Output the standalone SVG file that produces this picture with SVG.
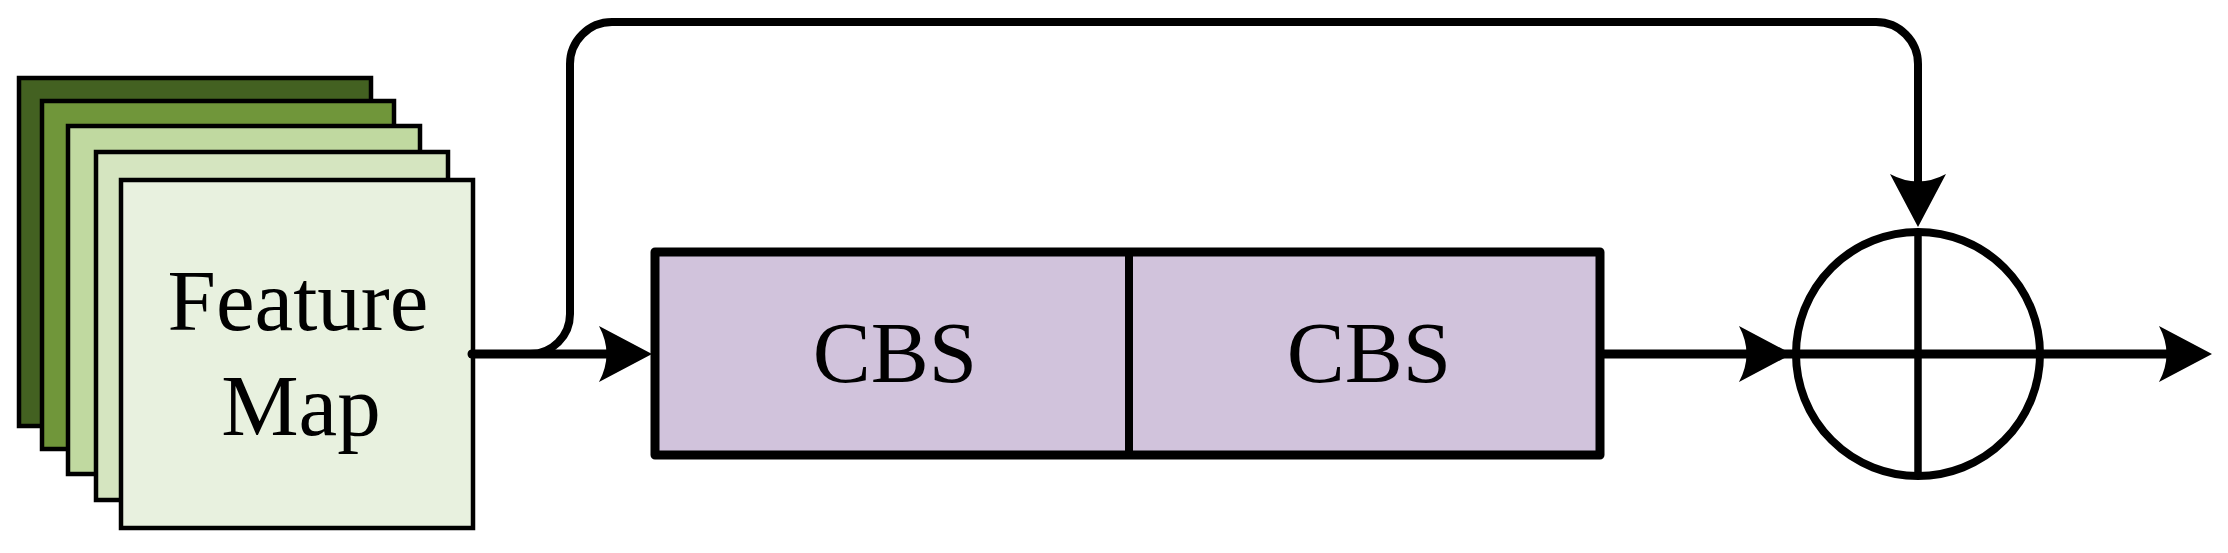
<svg xmlns="http://www.w3.org/2000/svg" width="2228" height="553" viewBox="0 0 2228 553">
  <style>
    .fm { stroke: #000; stroke-width: 4.5; }
    .cbs { fill: #d1c3dc; stroke: #000; stroke-width: 9; stroke-linejoin: round; }
    .lbl { font-family: "Liberation Serif", "Times New Roman", serif; fill: #000; text-anchor: middle; font-size: 87px; }
    .conn { fill: none; stroke: #000; stroke-width: 8; stroke-linecap: round; stroke-linejoin: round; }
    .hconn { fill: none; stroke: #000; stroke-width: 9; stroke-linecap: round; }
    .thin { fill: none; stroke: #000; stroke-width: 7.5; }
    .ah { fill: #000; stroke: none; }
  </style>
  <defs>
    <path id="arrow" d="M0,0 L-53,-28 Q-38,0 -53,28 Z"/>
  </defs>
  <rect width="2228" height="553" fill="#fff"/>

  <g id="feature-map">
    <rect class="fm" x="19" y="78" width="352" height="348" fill="#436121"/>
    <rect class="fm" x="42" y="101" width="352" height="348" fill="#70963a"/>
    <rect class="fm" x="68" y="126" width="352" height="348" fill="#c0d9a0"/>
    <rect class="fm" x="96" y="152" width="352" height="348" fill="#d5e5c0"/>
    <rect class="fm" x="121" y="180" width="352" height="348" fill="#e8f1df"/>
    <text class="lbl" x="298" y="330">Feature</text>
    <text class="lbl" x="301" y="435">Map</text>
  </g>

  <g id="cbs-block">
    <rect class="cbs" x="655" y="252" width="945" height="203"/>
    <line x1="1129" y1="252" x2="1129" y2="455" stroke="#000" stroke-width="8"/>
    <text class="lbl" x="895" y="382">CBS</text>
    <text class="lbl" x="1369" y="382">CBS</text>
  </g>

  <g id="add-node">
    <circle cx="1918" cy="354" r="122" fill="none" stroke="#000" stroke-width="8"/>
    <line class="thin" x1="1918" y1="232" x2="1918" y2="476"/>
  </g>

  <g id="connectors">
    <line class="hconn" x1="472" y1="354" x2="610" y2="354"/>
    <path class="conn" d="M472,354 H530 A40,40 0 0 0 570,314 V64 A42,42 0 0 1 612,22 H1876 A42,42 0 0 1 1918,64 V200"/>
    <line class="hconn" x1="1604" y1="354" x2="1750" y2="354"/>
    <line class="hconn" x1="1750" y1="354" x2="2170" y2="354"/>
    <use href="#arrow" class="ah" transform="translate(652,354)"/>
    <use href="#arrow" class="ah" transform="translate(1792,354)"/>
    <use href="#arrow" class="ah" transform="translate(2212,354)"/>
    <use href="#arrow" class="ah" transform="translate(1918,227) rotate(90)"/>
  </g>
</svg>
